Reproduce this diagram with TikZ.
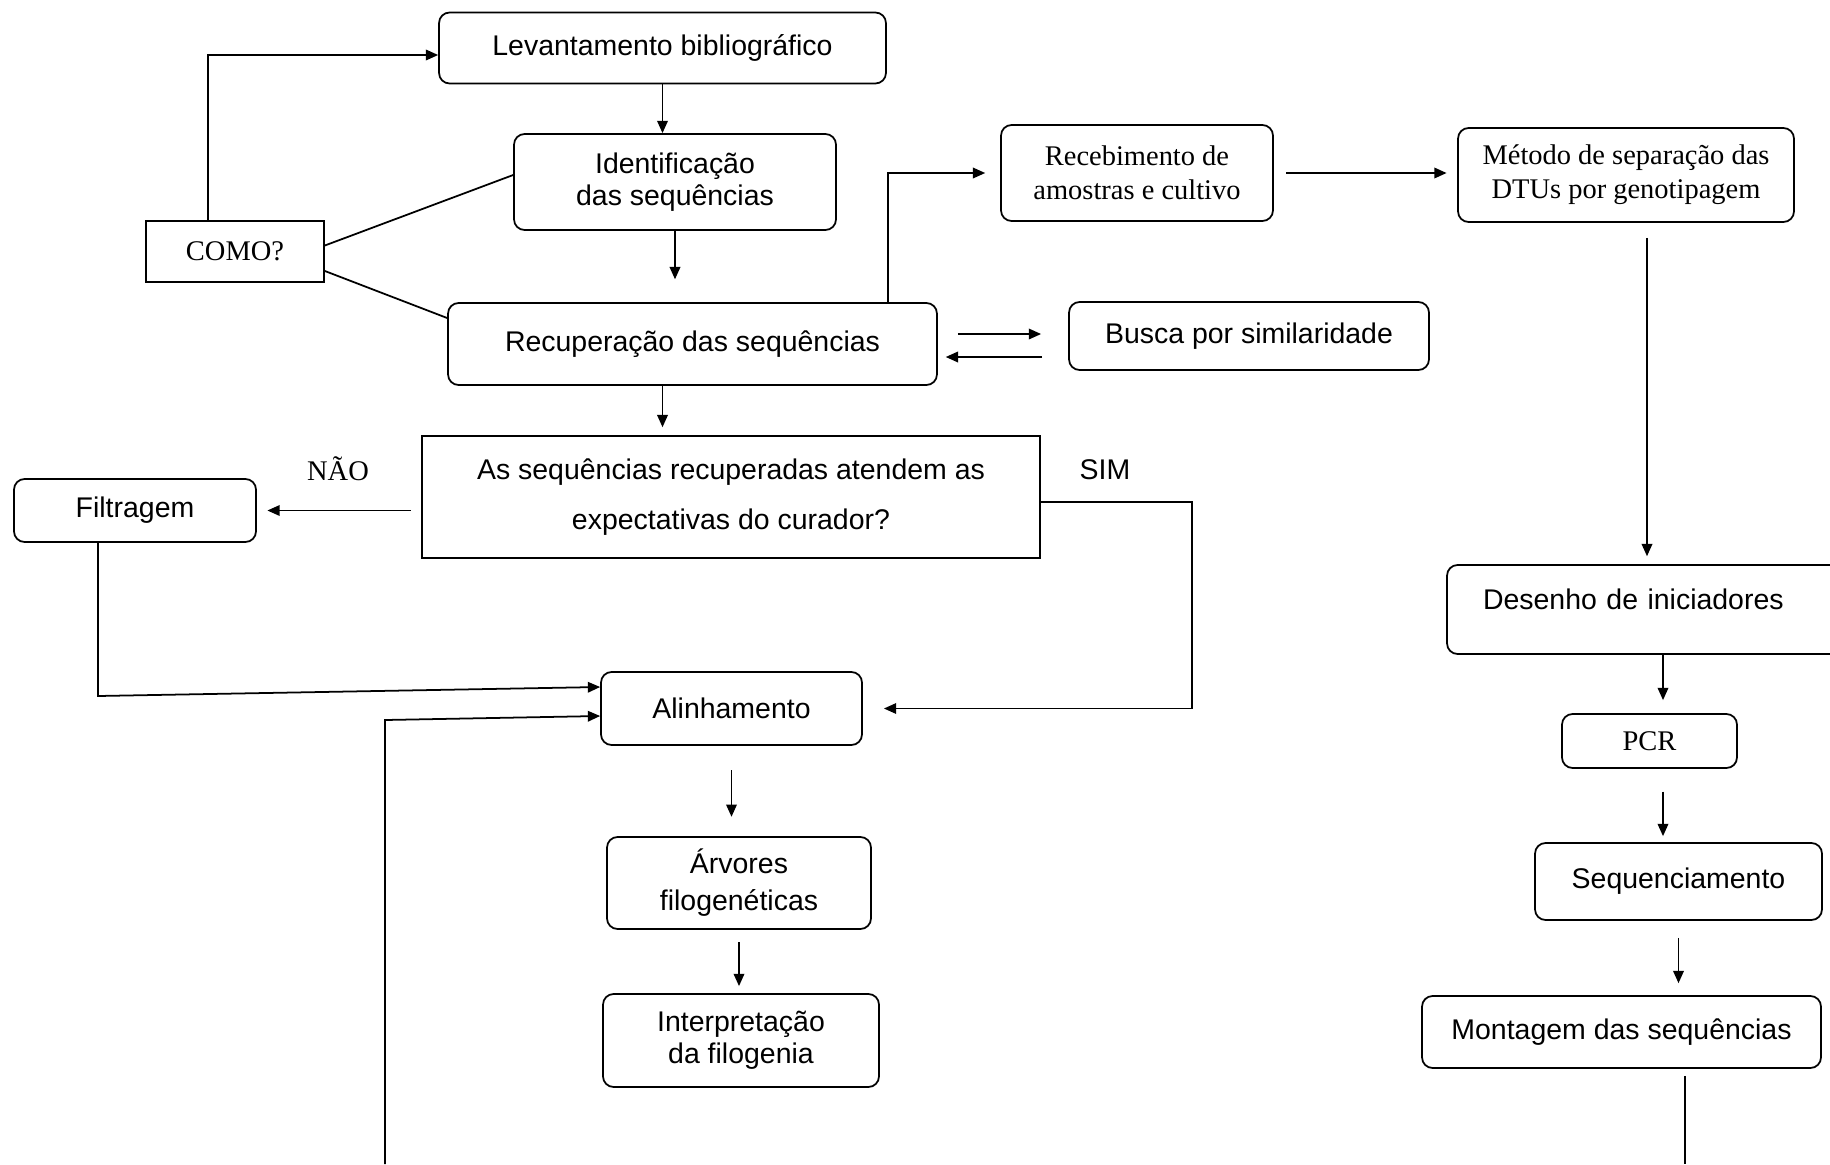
\documentclass[tikz,border=0pt]{standalone}
\usepackage{fontspec}
\setmainfont{Liberation Sans}
\newfontfamily\tnr{Liberation Serif}
\usetikzlibrary{arrows.meta}

\begin{document}
\begin{tikzpicture}[x=0.02cm, y=-0.02cm]
  \tikzset{caixa/.style={draw, rounded corners=6pt, line width=1pt, align=center, inner sep=2pt,
                         font=\fontsize{16.2}{18}\selectfont},
           quadro/.style={caixa, rounded corners=0pt},
           serif/.style={font=\tnr\fontsize{16.2}{19.4}\selectfont},
           rotulo/.style={inner sep=0pt, font=\fontsize{16.2}{18}\selectfont},
           seta/.style={-{Triangle[length=7pt,width=6pt]}, line width=1pt},
           linha/.style={line width=1pt}}
  \useasboundingbox (0,0) rectangle (1830,1164);

  \node[caixa, minimum width=8.94cm, minimum height=1.42cm] (lev) at (662.5,48) {Levantamento bibliográfico};
  \node[caixa, minimum width=6.44cm, minimum height=1.92cm] (ident) at (675,182) {Identificação\\das sequências};
  \node[quadro, serif, minimum width=3.56cm, minimum height=1.22cm] (como) at (235,251.5) {COMO?};
  \node[caixa, minimum width=9.78cm, minimum height=1.64cm] (recup) at (692.5,344) {Recuperação das sequências};
  \node[caixa, serif, minimum width=5.44cm, minimum height=1.92cm] (receb) at (1137,173) {Recebimento de\\amostras e cultivo};
  \node[caixa, serif, minimum width=6.72cm, minimum height=1.88cm] (metodo) at (1626,175) {Método de separação das\\DTUs por genotipagem};
  \node[caixa, minimum width=7.2cm, minimum height=1.36cm] (busca) at (1249,336) {Busca por similaridade};
  \node[quadro, font=\fontsize{16.2}{28.5}\selectfont, minimum width=12.36cm, minimum height=2.44cm] (pergunta) at (731,497)
    {As sequências recuperadas atendem as\\expectativas do curador?};
  \node[caixa, minimum width=4.84cm, minimum height=1.26cm] (filtr) at (135,510.5) {Filtragem};
  \node[rotulo, serif] (nao) at (338,469) {NÃO};
  \node[rotulo] (sim) at (1105,470) {SIM};
  \node[caixa, minimum width=5.22cm, minimum height=1.46cm] (alinh) at (731.5,708.5) {Alinhamento};
  \node[caixa, font=\fontsize{16.2}{21}\selectfont, minimum width=5.28cm, minimum height=1.84cm] (arvores) at (739,883) {Árvores\\filogenéticas};
  \node[caixa, minimum width=5.52cm, minimum height=1.86cm] (interp) at (741,1040.5) {Interpretação\\da filogenia};
  \node[caixa, align=left, inner xsep=.72cm, text width=6.62cm, text depth=12pt, minimum height=1.78cm] (desenho) at (1648.5,609.5) {Desenho de iniciadores};
  \node[caixa, serif, minimum width=3.5cm, minimum height=1.08cm] (pcr) at (1649.5,741) {PCR};
  \node[caixa, minimum width=5.74cm, minimum height=1.54cm] (seqc) at (1678.5,881.5) {Sequenciamento};
  \node[caixa, minimum width=7.98cm, minimum height=1.44cm] (mont) at (1621.5,1032) {Montagem das sequências};

  \coordinate (filtcanto) at (98,696);
  \coordinate (esqcanto) at (385,720);
  \coordinate (baixoesq) at (385,1164);
  \coordinate (baixodir) at (1685,1164);

  \draw[seta] (lev) -- (lev |- ident.north);
  \draw[seta, shorten >=13pt] (ident.south) -- (ident.south |- recup.north);
  \draw[seta] ([xshift=-.54cm]como.north) |- ([yshift=-.14cm]lev.west);
  \draw[linha] ([yshift=.12cm]como.east) -- ([yshift=.14cm]ident.west);
  \draw[linha] ([yshift=-.39cm]como.east) -- ([yshift=.52cm]recup.west);
  \draw[seta, shorten >=8.5pt] ([xshift=-1cm]recup.north east) |- (receb.west);
  \draw[seta, shorten <=7pt, shorten >=6pt] (receb.east) -- (receb.east -| metodo.west);
  \draw[seta, shorten <=8.5pt, shorten >=4.5pt] ([xshift=.42cm]metodo.south) -- ([xshift=.42cm]metodo.south |- desenho.north);
  \draw[seta, shorten <=11.4pt, shorten >=15.4pt] ([yshift=.2cm]recup.east) -- ([yshift=.2cm]recup.east -| busca.west);
  \draw[seta, shorten <=14.8pt, shorten >=4.5pt] ([yshift=-.26cm]recup.east -| busca.west) -- ([yshift=-.26cm]recup.east);
  \draw[seta, shorten >=4.5pt] ([xshift=-.6cm]recup.south) -- ([xshift=-.6cm]recup.south |- pergunta.north);
  \draw[seta, shorten <=6pt, shorten >=6pt] (filtr.east -| pergunta.west) -- (filtr.east);
  \draw[seta, shorten >=12pt] ([yshift=-.1cm]pergunta.east) -- ++(3.02cm,0) |- (alinh.east);
  \draw[seta] (filtr.south -| filtcanto) -- (filtcanto) -- ([yshift=.43cm]alinh.west);
  \draw[seta] (baixoesq) -- (esqcanto) -- ([yshift=-.15cm]alinh.west);
  \draw[seta, shorten <=14pt, shorten >=11pt] (alinh.south) -- (alinh.south |- arvores.north);
  \draw[seta, shorten <=7pt, shorten >=4pt] (arvores.south) -- (arvores.south |- interp.north);
  \draw[seta, shorten >=7.4pt] ([xshift=.27cm]pcr.north |- desenho.south) -- ([xshift=.27cm]pcr.north);
  \draw[seta, shorten <=13pt, shorten >=3.4pt] ([xshift=.27cm]pcr.south) -- ([xshift=.27cm]pcr.south |- seqc.north);
  \draw[seta, shorten <=9.7pt, shorten >=6.8pt] (seqc.south) -- (seqc.south |- mont.north);
  \draw[linha, shorten <=4pt] (mont.south -| baixodir) -- (baixodir);
\end{tikzpicture}
\end{document}
